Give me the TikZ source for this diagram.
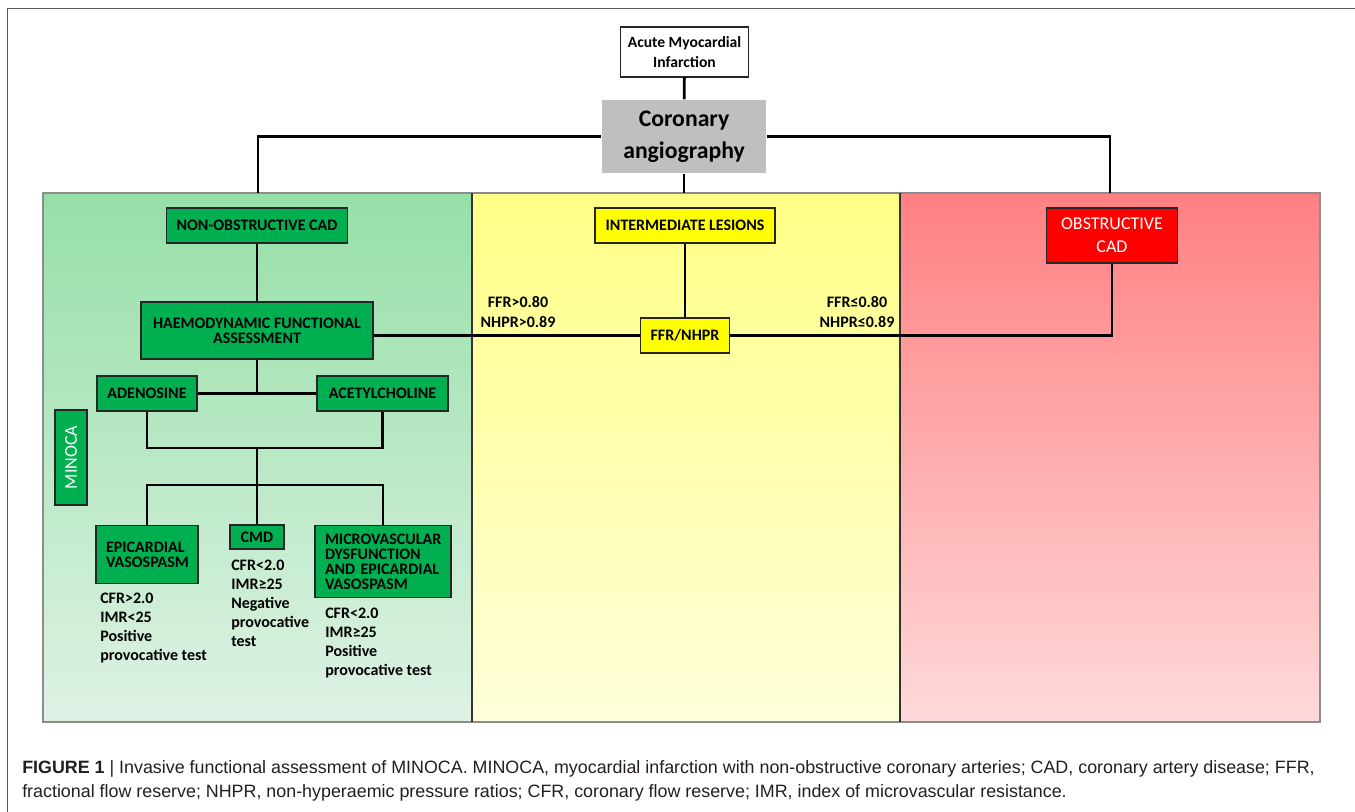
\documentclass[tikz,border=0pt]{standalone}
\usepackage{fontspec}
\setmainfont{Carlito}
\newfontfamily\capfont{Liberation Sans}
\usetikzlibrary{calc}

\newdimen\px
\px=0.75pt

\definecolor{boxgreen}{HTML}{00B050}
\definecolor{boxyellow}{HTML}{FFFF00}
\definecolor{boxred}{HTML}{FF0000}
\definecolor{angiogray}{HTML}{BFBFBF}
\definecolor{pgreenhi}{HTML}{96DFA7}
\definecolor{pgreenlo}{HTML}{DEF2E4}
\definecolor{pyellowhi}{HTML}{FFFF86}
\definecolor{pyellowlo}{HTML}{FFFFDA}
\definecolor{predhi}{HTML}{FF8082}
\definecolor{predlo}{HTML}{FFD9DA}
\definecolor{captext}{HTML}{231F20}

\newcommand{\panel}[4]{
	\pgfmathsetmacro{\PNxa}{#1}
	\pgfmathsetmacro{\PNxb}{#2}
	\shade[top color=#3, bottom color=#4] (\PNxa, \pnTop) rectangle (\PNxb, \pnBot);
}

\begin{document}
\begin{tikzpicture}[x=0.75pt, y=-0.75pt,
	conn/.style={line width=2.1pt, black},
	box/.style={draw=black!85, line width=1pt, inner sep=0pt, align=center,
		font=\fontsize{12}{11.25}\selectfont\bfseries},
	gbox/.style={box, fill=boxgreen},
	leftbox/.style={gbox, align=left, inner xsep=10\px},
	ybox/.style={box, fill=boxyellow},
	result/.style={anchor=west, inner sep=0pt, align=left,
		font=\fontsize{12}{14.25}\selectfont\bfseries},
	cutoff/.style={inner sep=0pt, align=center,
		font=\fontsize{12}{15}\selectfont\bfseries}]
\useasboundingbox (0,0) rectangle (1355,812);

% outer frame
\draw[black!65, line width=1.4pt] (7.5,812) |- (1355,8.5);

\pgfmathsetmacro{\pnTop}{193}
\pgfmathsetmacro{\pnBot}{722}

\panel{43}{472}{pgreenhi}{pgreenlo}
\panel{472}{900}{pyellowhi}{pyellowlo}
\panel{900}{1320}{predhi}{predlo}
\draw[black!45, line width=0.8pt] (43,\pnTop) rectangle (1320,\pnBot);
\draw[black!80, line width=1.2pt] (472,\pnTop) -- (472,\pnBot) (900,\pnTop) -- (900,\pnBot);

% top of the tree
\node[box, fill=white, font=\fontsize{11.7}{15}\selectfont\bfseries,
	minimum width=128\px, minimum height=50\px] (ami) at (684.5,52) {Acute Myocardial\\Infarction};
\node[box, draw=none, fill=angiogray, font=\fontsize{17.8}{24}\selectfont\bfseries,
	minimum width=164\px, minimum height=73\px] (angio) at (684,136.5) {Coronary\\angiography};

\coordinate (leftTop) at (258,\pnTop);
\coordinate (midTop) at (684,\pnTop);
\coordinate (rightTop) at (1110,\pnTop);

\draw[conn] (ami) -- (angio);
\draw[conn] (angio.west) -| (leftTop);
\draw[conn] (angio.east) -| (rightTop);
\draw[conn] (angio) -- (midTop);

% non-obstructive side
\node[gbox, minimum width=181\px, minimum height=35\px] (noncad) at (257,225.5) {NON-OBSTRUCTIVE CAD};
\node[gbox, minimum width=232\px, minimum height=57\px] (hfa) at (257,330.5) {HAEMODYNAMIC FUNCTIONAL\\ASSESSMENT};
\node[gbox, minimum width=100\px, minimum height=35\px] (aden) at (147,393.5) {ADENOSINE};
\node[gbox, minimum width=131\px, minimum height=35\px] (acet) at (382.5,393.5) {ACETYLCHOLINE};
\node[leftbox, text width=82\px, minimum height=58\px] (epi) at (147,554.5) {EPICARDIAL\\VASOSPASM};
\node[gbox, minimum width=54\px, minimum height=24\px] (cmd) at (257,537) {CMD};
\node[leftbox, text width=116\px, minimum height=72\px] (micro) at (383,561.5) {MICROVASCULAR\\DYSFUNCTION\\AND EPICARDIAL\\VASOSPASM};
\node[gbox, rotate=90, font=\fontsize{13.5}{15}\selectfont, text=white,
	minimum width=95\px, minimum height=32\px] (minoca) at (71,457.5) {MINOCA};

\coordinate (join) at (257,448);
\coordinate (fork) at (257,485);

\draw[conn] (noncad) -- (hfa);
\draw[conn] (aden.east) -- (acet.west);
\draw[conn] (hfa.south) -- (hfa.south |- aden.east);
\draw[conn] (aden.south) |- (join) -| (acet.south);
\draw[conn] (join) -- (fork);
\draw[conn] (epi.north) |- (fork) -| (micro.north);
\draw[conn] (fork) -- (cmd.north);

\node[result] (epires) at (100,628) {CFR>2.0\\IMR<25\\Positive\\provocative test};
\node[result] (cmdres) at (231,603) {CFR<2.0\\IMR≥25\\Negative\\provocative\\test};
\node[result] (microres) at (325,643.5) {CFR<2.0\\IMR≥25\\Positive\\provocative test};

% intermediate lesions
\node[ybox, minimum width=180\px, minimum height=35\px] (inter) at (685,225.5) {INTERMEDIATE LESIONS};
\node[ybox, minimum width=89\px, minimum height=35\px] (ffr) at (685,335.5) {FFR/NHPR};
\node[cutoff] (negcut) at (518,312) {FFR>0.80\\NHPR>0.89};
\node[cutoff] (poscut) at (857,312) {FFR≤0.80\\NHPR≤0.89};

% obstructive side
\node[box, fill=boxred, text=white, font=\fontsize{13.5}{17}\selectfont,
	minimum width=131\px, minimum height=55\px] (obcad) at (1112,235.5) {OBSTRUCTIVE\\CAD};

\draw[conn] (inter) -- (ffr);
\draw[conn] (hfa.east |- ffr.west) -- (ffr.west);
\draw[conn] (ffr.east) -| (obcad.south);

% caption
\node[anchor=base west, inner sep=0pt, text=captext, font=\capfont\fontsize{13.4}{16}\selectfont] (cap1) at (22,773)
	{\textbf{FIGURE 1} | Invasive functional assessment of MINOCA. MINOCA, myocardial infarction with non-obstructive coronary arteries; CAD, coronary artery disease; FFR,};
\node[anchor=base west, inner sep=0pt, text=captext, font=\capfont\fontsize{13.4}{16}\selectfont] (cap2) at (22,797)
	{fractional flow reserve; NHPR, non-hyperaemic pressure ratios; CFR, coronary flow reserve; IMR, index of microvascular resistance.};
\end{tikzpicture}
\end{document}
